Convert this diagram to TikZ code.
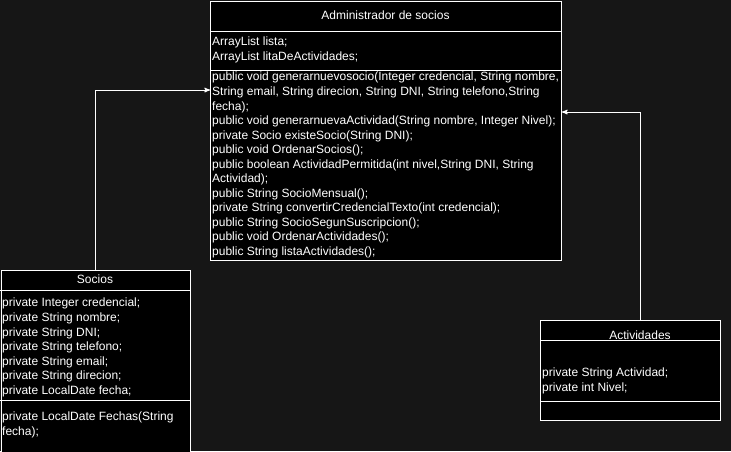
\documentclass[tikz,border=0pt]{standalone}
\usepackage{fontspec}
\setmainfont{Liberation Sans}
\usepackage{tikz}
\usetikzlibrary{arrows}
\definecolor{bg}{HTML}{161616}
\tikzstyle{ar} = [draw=white, line width=1pt, -stealth']
\tikzstyle{cls} = [draw=white, fill=black, line width=1pt, inner sep=0pt, anchor=north west]
\tikzstyle{sep} = [draw=white, line width=1pt]
\tikzstyle{ttl} = [text=white, inner sep=0pt, font=\fontsize{12}{14.5}\selectfont]
\tikzstyle{txt} = [text=white, inner sep=0pt, anchor=north west, align=left, font=\fontsize{12}{14.55}\selectfont]

\begin{document}
\begin{tikzpicture}[yscale=-1]
			\clip (0pt,0pt) rectangle (731pt,451pt);
			\fill[bg] (0pt,0pt) rectangle (731pt,451pt);
			% Administrador de socios
			\node (admin)[cls, minimum width=351pt, minimum height=259pt] at (210pt,1pt) {};
			\draw[sep] (210pt,31pt) -- (561pt,31pt);
			\draw[sep] (210pt,70pt) -- (561pt,70pt);
			\node (adminT)[ttl] at (385.5pt,15pt) {Administrador de socios};
			\node (adminA)[txt] at (212pt,37pt) {ArrayList lista;\\ArrayList litaDeActividades;};
			\node (adminM)[txt] at (212pt,72pt) {public void generarnuevosocio(Integer credencial, String nombre,\\String email, String direcion, String DNI, String telefono,String\\fecha);\\public void generarnuevaActividad(String nombre, Integer Nivel);\\private Socio existeSocio(String DNI);\\public void OrdenarSocios();\\public boolean ActividadPermitida(int nivel,String DNI, String\\Actividad);\\public String SocioMensual();\\private String convertirCredencialTexto(int credencial);\\public String SocioSegunSuscripcion();\\public void OrdenarActividades();\\public String listaActividades();};
			% Socios
			\node (socios)[cls, minimum width=189.5pt, minimum height=190pt] at (0.5pt,270pt) {};
			\draw[sep] (0pt,290pt) -- (190pt,290pt);
			\draw[sep] (0pt,400pt) -- (190pt,400pt);
			\node (sociosT)[ttl] at (95pt,279pt) {Socios};
			\node (sociosA)[txt] at (2pt,298pt) {private Integer credencial;\\private String nombre;\\private String DNI;\\private String telefono;\\private String email;\\private String direcion;\\private LocalDate fecha;};
			\node (sociosM)[txt] at (2pt,412pt) {private LocalDate Fechas(String\\fecha);};
			% Actividades
			\node (activ)[cls, minimum width=180pt, minimum height=100pt] at (540pt,320pt) {};
			\draw[sep] (540pt,340pt) -- (720pt,340pt);
			\draw[sep] (540pt,401pt) -- (720pt,401pt);
			\node (activT)[ttl] at (640pt,335pt) {Actividades};
			\node (activA)[txt] at (542pt,368pt) {private String Actividad;\\private int Nivel;};
			% connectors
			\path (admin.north west) ++(0,89pt) coordinate (inS);
			\path (admin.north east) ++(0,111pt) coordinate (inA);
			\path (activ.north) ++(10pt,0) coordinate (outA);
			\draw[ar] (socios.north) |- (inS);
			\draw[ar] (outA) |- (inA);
\end{tikzpicture}
\end{document}
